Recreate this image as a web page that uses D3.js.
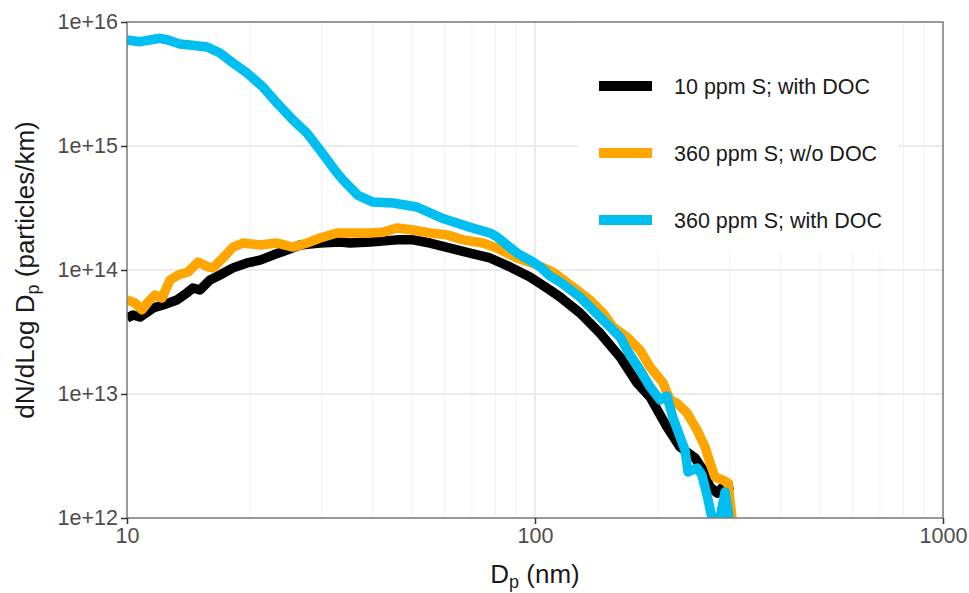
<!DOCTYPE html>
<html>
<head>
<meta charset="utf-8">
<script src="https://cdn.jsdelivr.net/npm/d3@7/dist/d3.min.js"></script>
<style>
    body { margin: 0; background: #fff; }
    text { font-family: "Liberation Sans", Arial, sans-serif; }
</style>
</head>
<body>
<div id="chart"></div>
<script>
'use strict';

/*
Data
 */

// Legend labels
const seriesNames = ['10 ppm S; with DOC', '360 ppm S; w/o DOC', '360 ppm S; with DOC'];

// 10 ppm S; with DOC
const dpBlack = [10.0, 10.34, 10.76, 11.58, 12.25, 13.26, 14.03, 14.51, 15.10, 15.98, 16.90, 18.19, 19.68, 21.18,
    22.80, 24.67, 26.55, 29.72, 33.27, 35.21, 39.41, 45.89, 50.23, 55.28, 61.89, 69.28, 77.55, 86.82, 97.2,
    108.8, 115.2, 128.9, 144.3, 161.6, 177.8, 191.4, 210.6, 226.6, 246.7, 258.1, 268.5, 279.3, 289.0, 305.7];
const nBlack = [4.10e13, 4.34e13, 4.18e13, 4.94e13, 5.22e13, 5.73e13, 6.53e13, 7.16e13, 6.90e13, 8.31e13, 9.11e13,
    1.04e14, 1.14e14, 1.20e14, 1.32e14, 1.45e14, 1.59e14, 1.65e14, 1.68e14, 1.65e14, 1.68e14, 1.75e14, 1.75e14,
    1.65e14, 1.50e14, 1.37e14, 1.25e14, 1.06e14, 8.78e13, 6.90e13, 6.06e13, 4.50e13, 3.10e13, 1.99e13, 1.23e13,
    9.46e12, 5.42e12, 3.74e12, 3.05e12, 2.44e12, 1.78e12, 1.59e12, 1.78e12, 1.85e12];

// 360 ppm S; w/o DOC
const dpOrange = [10.0, 10.46, 10.88, 11.26, 11.71, 12.18, 12.75, 13.34, 14.11, 14.93, 15.80, 16.25, 17.19, 18.19,
    19.24, 21.18, 23.32, 25.52, 27.62, 29.72, 32.72, 35.21, 39.41, 42.42, 45.89, 50.23, 55.28, 60.85, 66.62,
    74.58, 80.70, 90.35, 101.1, 110.7, 123.9, 136.4, 146.8, 155.4, 168.1, 180.9, 191.4, 205.9, 214.2, 222.8,
    235.8, 249.5, 261.1, 268.5, 276.2, 289.0, 297.2, 304.0];
const nOrange = [5.73e13, 5.42e13, 4.76e13, 5.52e13, 6.29e13, 5.94e13, 8.31e13, 9.11e13, 9.63e13, 1.16e14, 1.06e14,
    1.04e14, 1.25e14, 1.53e14, 1.65e14, 1.59e14, 1.65e14, 1.53e14, 1.65e14, 1.81e14, 1.99e14, 1.99e14, 1.99e14,
    2.02e14, 2.18e14, 2.10e14, 1.99e14, 1.92e14, 1.75e14, 1.65e14, 1.50e14, 1.25e14, 1.10e14, 9.63e13, 7.29e13,
    5.73e13, 4.50e13, 3.47e13, 2.88e13, 2.26e13, 1.65e13, 1.23e13, 8.95e12, 8.46e12, 7.03e12, 5.13e12, 3.74e12,
    2.78e12, 2.14e12, 2.02e12, 1.91e12, 1.0e12];

// 360 ppm S; with DOC
const dpCyan = [10.0, 10.76, 12.05, 12.60, 13.49, 14.27, 15.71, 16.90, 18.19, 19.68, 21.54, 23.32, 25.52, 27.62,
    29.72, 32.72, 33.84, 36.83, 40.09, 44.87, 51.37, 59.50, 68.13, 77.55, 80.70, 85.37, 90.35, 98.9, 102.9,
    108.8, 115.2, 128.9, 144.3, 161.6, 168.1, 180.9, 191.4, 202.5, 210.6, 217.8, 233.2, 237.1, 249.5, 256.6,
    264.0, 271.5, 284.1, 292.3, 298.9];
const nCyan = [7.16e15, 6.94e15, 7.39e15, 7.16e15, 6.65e15, 6.52e15, 6.29e15, 5.62e15, 4.67e15, 3.88e15, 2.99e15,
    2.22e15, 1.62e15, 1.27e15, 9.28e14, 6.06e14, 5.32e14, 4.0e14, 3.53e14, 3.47e14, 3.22e14, 2.6e14, 2.25e14,
    1.99e14, 1.85e14, 1.59e14, 1.37e14, 1.16e14, 1.06e14, 8.95e13, 8.0e13, 6.05e13, 4.18e13, 2.88e13, 2.26e13,
    1.56e13, 1.14e13, 8.95e12, 9.64e12, 6.40e12, 3.53e12, 2.35e12, 2.53e12, 2.22e12, 1.53e12, 1.0e12, 1.0e12,
    1.62e12, 1.0e12];

// Ticks
const xTicks = [10, 100, 1000];
const yTicks = [1e12, 1e13, 1e14, 1e15, 1e16];

/*
Chart
 */

class SizeDist {

    // Elements
    svg = null;
    g = null;

    // Configs
    svgW = 969;
    svgH = 593;
    panel = {left: 127, right: 943, top: 22, bottom: 518};
    colors = ['#000000', '#FFA500', '#00BFF0'];
    lineW = 9.5;

    // Tools
    xScale = d3.scaleLog().domain([10, 1000]).range([this.panel.left, this.panel.right]);
    yScale = d3.scaleLog().domain([1e12, 1e16]).range([this.panel.bottom, this.panel.top]);

    constructor(_target) {
        this.target = _target;
        this.init();
    }

    init() {
        const vis = this;

        vis.svg = d3.select(`#${vis.target}`)
            .append('svg')
            .attr('width', vis.svgW)
            .attr('height', vis.svgH);
        vis.g = vis.svg.append('g');

        vis.wrangle();
    }

    wrangle() {
        const vis = this;

        // Zip the arrays into point lists
        const zip = (ds, ns) => ds.map((d, i) => ({dp: d, n: ns[i]}));
        vis.displayData = [
            {name: seriesNames[0], values: zip(dpBlack, nBlack)},
            {name: seriesNames[1], values: zip(dpOrange, nOrange)},
            {name: seriesNames[2], values: zip(dpCyan, nCyan)}
        ];

        // Minor breaks on x
        vis.xMinor = [];
        [10, 100].forEach(b => {
            for (let k = 2; k <= 9; k++) vis.xMinor.push(b * k);
        });

        vis.render();
    }

    render() {
        const vis = this;
        const p = vis.panel;

        // Grid
        const grid = vis.g.append('g').attr('class', 'grid');
        grid.selectAll('.minorX')
            .data(vis.xMinor)
            .join('line')
            .attr('x1', d => vis.xScale(d)).attr('x2', d => vis.xScale(d))
            .attr('y1', p.top).attr('y2', p.bottom)
            .attr('stroke', '#F2F2F2').attr('stroke-width', 1.1);
        grid.selectAll('.majorX')
            .data(xTicks)
            .join('line')
            .attr('x1', d => vis.xScale(d)).attr('x2', d => vis.xScale(d))
            .attr('y1', p.top).attr('y2', p.bottom)
            .attr('stroke', '#EBEBEB').attr('stroke-width', 2);
        grid.selectAll('.majorY')
            .data(yTicks)
            .join('line')
            .attr('x1', p.left).attr('x2', p.right)
            .attr('y1', d => vis.yScale(d)).attr('y2', d => vis.yScale(d))
            .attr('stroke', '#EBEBEB').attr('stroke-width', 2);

        // Clip
        vis.svg.append('defs').append('clipPath').attr('id', 'clip')
            .append('rect')
            .attr('x', p.left).attr('y', p.top)
            .attr('width', p.right - p.left).attr('height', p.bottom - p.top);

        // Lines
        const lineMaker = d3.line()
            .x(d => vis.xScale(d.dp))
            .y(d => vis.yScale(d.n));
        vis.g.append('g')
            .attr('clip-path', 'url(#clip)')
            .selectAll('path')
            .data(vis.displayData)
            .join('path')
            .attr('d', d => lineMaker(d.values))
            .attr('fill', 'none')
            .attr('stroke', (d, i) => vis.colors[i])
            .attr('stroke-width', vis.lineW)
            .attr('stroke-linejoin', 'round');

        // Legend
        const legG = vis.g.append('g').attr('class', 'legend');
        legG.append('rect')
            .attr('x', 578).attr('y', p.top)
            .attr('width', 320).attr('height', 232)
            .attr('fill', '#fff');
        const rows = legG.selectAll('.legRow')
            .data(seriesNames)
            .join('g')
            .attr('class', 'legRow')
            .attr('transform', (d, i) => `translate(599, ${86 + i * 67})`);
        rows.append('line')
            .attr('x1', 0).attr('x2', 53)
            .attr('stroke', (d, i) => vis.colors[i])
            .attr('stroke-width', 10);
        rows.append('text')
            .attr('x', 75)
            .attr('dy', '0.35em')
            .attr('font-size', 21.5)
            .attr('fill', '#1a1a1a')
            .text(d => d);

        // Panel border
        vis.g.append('rect')
            .attr('x', p.left).attr('y', p.top)
            .attr('width', p.right - p.left).attr('height', p.bottom - p.top)
            .attr('fill', 'none')
            .attr('stroke', '#7f7f7f')
            .attr('stroke-width', 1.5);

        // Axes
        const xAxis = vis.g.append('g')
            .attr('transform', `translate(0, ${p.bottom})`)
            .call(d3.axisBottom(vis.xScale).tickValues(xTicks).tickFormat(d3.format('d')).tickSize(6).tickPadding(4));
        const yAxis = vis.g.append('g')
            .attr('transform', `translate(${p.left}, 0)`)
            .call(d3.axisLeft(vis.yScale).tickValues(yTicks)
                .tickFormat(d => '1e+' + Math.round(Math.log10(d))).tickSize(6).tickPadding(3));
        [xAxis, yAxis].forEach(ax => {
            ax.select('.domain').remove();
            ax.selectAll('line').attr('stroke', '#333').attr('stroke-width', 1.5);
            ax.selectAll('text')
                .attr('font-size', 21.5)
                .attr('fill', '#4d4d4d')
                .style('font-family', '"Liberation Sans", Arial, sans-serif');
        });

        // Axis titles
        const xTitle = vis.g.append('text')
            .attr('x', (p.left + p.right) / 2)
            .attr('y', 583)
            .attr('text-anchor', 'middle')
            .attr('font-size', 26)
            .attr('fill', '#1a1a1a');
        xTitle.append('tspan').text('D');
        xTitle.append('tspan').attr('font-size', 18).attr('dy', 5).text('p');
        xTitle.append('tspan').attr('dy', -5).text(' (nm)');

        const yTitle = vis.g.append('text')
            .attr('transform', `translate(34, ${(p.top + p.bottom) / 2}) rotate(-90)`)
            .attr('text-anchor', 'middle')
            .attr('font-size', 26)
            .attr('fill', '#1a1a1a');
        yTitle.append('tspan').text('dN/dLog D');
        yTitle.append('tspan').attr('font-size', 18).attr('dy', 5).text('p');
        yTitle.append('tspan').attr('dy', -5).text(' (particles/km)');
    }
}

new SizeDist('chart');
</script>
</body>
</html>
